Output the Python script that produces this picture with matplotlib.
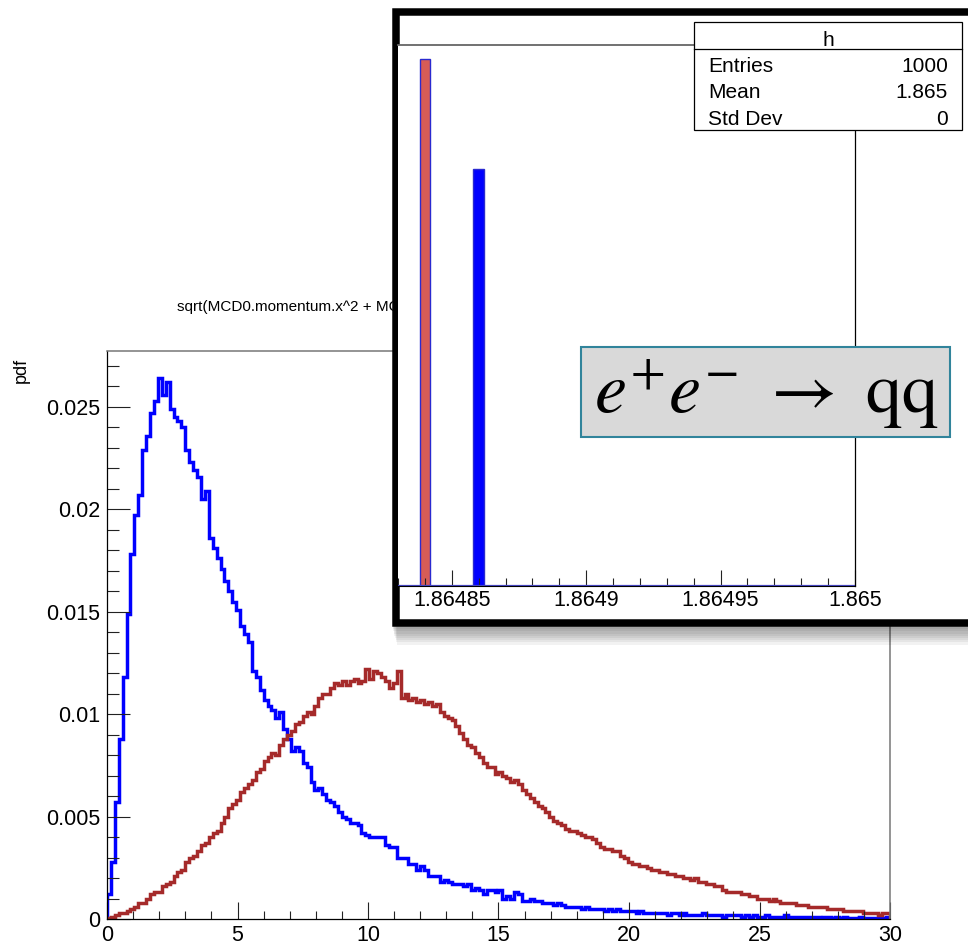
import numpy as np
import matplotlib
matplotlib.use("Agg")
import matplotlib.pyplot as plt
from matplotlib.patches import Rectangle
from matplotlib.lines import Line2D
from matplotlib.ticker import MultipleLocator, FixedLocator, FuncFormatter

plt.rcParams['font.family'] = ['Liberation Sans', 'DejaVu Sans']
plt.rcParams['mathtext.fontset'] = 'stix'

# momentum histograms: 200 bins on [0, 30]
p_min, p_max, n_bins = 0.0, 30.0, 200

pdf_blue = [
    0.0012, 0.0028, 0.0057, 0.0088, 0.0118, 0.0149, 0.0178, 0.0197, 0.0207, 0.0229,
    0.0236, 0.0247, 0.0253, 0.0264, 0.0256, 0.0262, 0.0249, 0.0245, 0.0243, 0.0240,
    0.0229, 0.0223, 0.0219, 0.0216, 0.0205, 0.0209, 0.0186, 0.0181, 0.0176, 0.0171,
    0.0165, 0.0160, 0.0155, 0.0151, 0.0143, 0.0139, 0.0135, 0.0121, 0.0118, 0.0112,
    0.0107, 0.0104, 0.0102, 0.0098, 0.0101, 0.0093, 0.0088, 0.0082, 0.0084, 0.0082,
    0.0076, 0.0074, 0.0067, 0.0063, 0.0064, 0.0061, 0.0058, 0.0057, 0.0055, 0.0052,
    0.0050, 0.0049, 0.0047, 0.0047, 0.0046, 0.0042, 0.0041, 0.0040, 0.0040, 0.0040,
    0.0040, 0.0036, 0.0035, 0.0035, 0.0030, 0.0030, 0.0030, 0.0027, 0.0027, 0.0024,
    0.0026, 0.0024, 0.0021, 0.0021, 0.0021, 0.0018, 0.0019, 0.0018, 0.0017, 0.0017,
    0.0017, 0.0016, 0.0017, 0.0014, 0.0015, 0.0014, 0.0012, 0.0014, 0.0014, 0.0013,
    0.0014, 0.0010, 0.0011, 0.0010, 0.0013, 0.0012, 0.0009, 0.0009, 0.0010, 0.0009,
    0.0009, 0.0008, 0.0008, 0.0008, 0.0007, 0.0008, 0.0007, 0.0006, 0.0006, 0.0006,
    0.0006, 0.0005, 0.0006, 0.0005, 0.0005, 0.0005, 0.0005, 0.0004, 0.0005, 0.0004,
    0.0005, 0.0004, 0.0004, 0.0004, 0.0004, 0.0003, 0.0004, 0.0003, 0.0003, 0.0003,
    0.0003, 0.0003, 0.0003, 0.0002, 0.0003, 0.0003, 0.0002, 0.0003, 0.0002, 0.0002,
    0.0002, 0.0002, 0.0003, 0.0002, 0.0002, 0.0002, 0.0002, 0.0001, 0.0002, 0.0002,
    0.0002, 0.0002, 0.0001, 0.0002, 0.0001, 0.0002, 0.0001, 0.0001, 0.0002, 0.0001,
    0.0001, 0.0001, 0.0001, 0.0002, 0.0001, 0.0001, 0.0001, 0.0001, 0.0001, 0.0001,
    0.0001, 0.0001, 0.00005, 0.0001, 0.0001, 0.00005, 0.0001, 0.00005, 0.0001, 0.00005,
    0.00005, 0.00005, 0.0001, 0.00005, 0.00005, 0.00005, 0.00005, 0.00005, 0.00005, 0.0001,
]

pdf_red = [
    0.00005, 0.0001, 0.0002, 0.0003, 0.0003, 0.0004, 0.0005, 0.0006, 0.0008, 0.0008,
    0.0010, 0.0012, 0.0013, 0.0013, 0.0016, 0.0017, 0.0018, 0.0021, 0.0023, 0.0024,
    0.0028, 0.0030, 0.0031, 0.0033, 0.0036, 0.0037, 0.0040, 0.0042, 0.0043, 0.0047,
    0.0050, 0.0054, 0.0056, 0.0058, 0.0062, 0.0064, 0.0066, 0.0068, 0.0072, 0.0073,
    0.0077, 0.0079, 0.0081, 0.0080, 0.0085, 0.0088, 0.0090, 0.0092, 0.0095, 0.0096,
    0.0099, 0.0101, 0.0100, 0.0104, 0.0108, 0.0110, 0.0110, 0.0113, 0.0115, 0.0114,
    0.0116, 0.0114, 0.0116, 0.0117, 0.0115, 0.0116, 0.0122, 0.0117, 0.0121, 0.0120,
    0.0118, 0.0116, 0.0113, 0.0115, 0.0121, 0.0108, 0.0110, 0.0107, 0.0108, 0.0106,
    0.0107, 0.0105, 0.0106, 0.0104, 0.0105, 0.0101, 0.0099, 0.0098, 0.0097, 0.0094,
    0.0091, 0.0088, 0.0085, 0.0084, 0.0081, 0.0079, 0.0076, 0.0074, 0.0074, 0.0071,
    0.0072, 0.0070, 0.0069, 0.0067, 0.0068, 0.0066, 0.0063, 0.0061, 0.0059, 0.0057,
    0.0055, 0.0054, 0.0052, 0.0050, 0.0048, 0.0047, 0.0046, 0.0044, 0.0043, 0.0043,
    0.0042, 0.0041, 0.0040, 0.0040, 0.0039, 0.0037, 0.0035, 0.0034, 0.0034, 0.0033,
    0.0033, 0.0031, 0.0030, 0.0028, 0.0027, 0.0027, 0.0026, 0.0026, 0.0025, 0.0024,
    0.0024, 0.0023, 0.0023, 0.0022, 0.0022, 0.0021, 0.0021, 0.0020, 0.0020, 0.0019,
    0.0020, 0.0018, 0.0018, 0.0017, 0.0017, 0.0016, 0.0016, 0.0014, 0.0013, 0.0013,
    0.0013, 0.0013, 0.0012, 0.0012, 0.0011, 0.0011, 0.0010, 0.0010, 0.0010, 0.0009,
    0.0010, 0.0009, 0.0008, 0.0008, 0.0008, 0.0008, 0.0007, 0.0007, 0.0007, 0.0006,
    0.0006, 0.0006, 0.0006, 0.0006, 0.0005, 0.0005, 0.0005, 0.0005, 0.0004, 0.0004,
    0.0004, 0.0004, 0.0004, 0.0003, 0.0003, 0.0003, 0.0003, 0.0002, 0.0003, 0.0003,
]

title = "sqrt(MCD0.momentum.x^2 + MCD0.momentum.y^2)"
y_title = "pdf"

# inset: D0 mass histogram "h"
mass_range = (1.86483, 1.865)
mass_ticks = [1.86485, 1.8649, 1.86495, 1.865]
bar_centers = [1.86484, 1.86486]
bar_counts = [1000, 790]
bar_colors = ['#d65c56', '#0000ff']
stats_name = "h"
stats_labels = ["Entries", "Mean", "Std Dev"]
stats_values = ["1000", "1.865", "0"]
reaction = r"$e^{+}e^{-}\ \rightarrow\ \mathrm{qq}$"

W, H = 968, 946
fig = plt.figure(figsize=(W / 100, H / 100), dpi=100)


def fx(x):
    return x / W


def fy(y):
    return 1 - y / H


def fmt(v, pos):
    return f"{v:g}"


# ---- main momentum plot ----
ax = fig.add_axes([fx(107), fy(919), (890 - 107) / W, (919 - 351) / H])
edges = np.linspace(p_min, p_max, n_bins + 1)
ax.stairs(pdf_blue, edges, color='#0000ff', lw=2.5, baseline=0)
ax.stairs(pdf_red, edges, color='#a52a2a', lw=2.5, baseline=0)
ax.set_xlim(p_min, p_max)
ax.set_ylim(0, 0.02773)
ax.xaxis.set_major_locator(MultipleLocator(5))
ax.xaxis.set_minor_locator(MultipleLocator(1))
ax.yaxis.set_major_locator(MultipleLocator(0.005))
ax.yaxis.set_minor_locator(MultipleLocator(0.001))
ax.xaxis.set_major_formatter(FuncFormatter(fmt))
ax.yaxis.set_major_formatter(FuncFormatter(fmt))
ax.tick_params(axis='x', which='major', direction='in', length=12, width=0.8,
               labelsize=15.5, pad=4, color='#222222')
ax.tick_params(axis='x', which='minor', direction='in', length=6, width=0.8, color='#222222')
ax.tick_params(axis='y', which='major', direction='in', length=16.5, width=0.8,
               labelsize=15.5, pad=5, color='#222222')
ax.tick_params(axis='y', which='minor', direction='in', length=8.6, width=0.8, color='#222222')
for side in ('left', 'bottom'):
    ax.spines[side].set_color('black')
    ax.spines[side].set_linewidth(0.9)
for side in ('top', 'right'):
    ax.spines[side].set_color('#777777')
    ax.spines[side].set_linewidth(1.1)

fig.text(fx(177), fy(307), title, fontsize=11, va='center', ha='left', zorder=0.5)
fig.text(fx(21), fy(370), y_title, fontsize=13, rotation=90, va='center', ha='center', zorder=0.5)

# ---- inset canvas with drop shadow ----
for k in range(1, 9):
    fig.patches.append(Rectangle((fx(392 + k * 0.6), fy(627 + k * 2.2)),
                                 600 / W, (627 + k * 2.2 - 10) / H,
                                 transform=fig.transFigure, facecolor='black',
                                 edgecolor='none', alpha=0.05, zorder=0.9))
fig.patches.append(Rectangle((fx(395.75), fy(623.25)), (1000 - 395.75) / W, (623.25 - 11.75) / H,
                             transform=fig.transFigure, facecolor='white',
                             edgecolor='black', lw=5.4, zorder=1))

axi = fig.add_axes([fx(398), fy(586), (855 - 398) / W, (586 - 45) / H], zorder=2)
axi.bar(bar_centers, bar_counts, width=4e-6, color=bar_colors,
        edgecolor='#2a2ad0', linewidth=1)
axi.axhline(0, color='#4848c8', lw=1.6)
axi.set_xlim(*mass_range)
axi.set_ylim(0, 1026)
axi.set_yticks([])
axi.xaxis.set_major_locator(FixedLocator(mass_ticks))
axi.xaxis.set_minor_locator(MultipleLocator(0.00001))
axi.xaxis.set_major_formatter(FuncFormatter(fmt))
axi.tick_params(axis='x', which='major', direction='in', length=11.5, width=0.8,
                labelsize=15.5, pad=3, color='#222222')
axi.tick_params(axis='x', which='minor', direction='in', length=5.8, width=0.8, color='#222222')
axi.spines['left'].set_visible(False)
axi.spines['top'].set_color('#666666')
axi.spines['top'].set_linewidth(1.3)
axi.spines['right'].set_color('black')
axi.spines['right'].set_linewidth(0.9)

# stats box
fig.patches.append(Rectangle((fx(694), fy(130)), (962 - 694) / W, (130 - 22) / H,
                             transform=fig.transFigure, facecolor='white',
                             edgecolor='black', lw=0.9, zorder=2.5))
fig.lines.append(Line2D([fx(694), fx(962)], [fy(49), fy(49)], transform=fig.transFigure,
                        color='black', lw=0.9, zorder=2.6))
fig.text(fx(828), fy(46.5), stats_name, fontsize=15, ha='center', va='baseline', zorder=3)
for i, (lab, val) in enumerate(zip(stats_labels, stats_values)):
    yb = [71.7, 98.3, 125][i]
    fig.text(fx(708), fy(yb), lab, fontsize=15, ha='left', va='baseline', zorder=3)
    fig.text(fx(948), fy(yb), val, fontsize=15, ha='right', va='baseline', zorder=3)

# reaction label
fig.patches.append(Rectangle((fx(580.7), fy(437)), (950 - 580.7) / W, (437 - 346.7) / H,
                             transform=fig.transFigure, facecolor='#d9d9d9',
                             edgecolor='#31849b', lw=1.5, zorder=4))
fig.text(fx(766), fy(413), reaction, fontsize=52, ha='center', va='baseline', zorder=5)

fig.savefig('out.png', dpi=100)
